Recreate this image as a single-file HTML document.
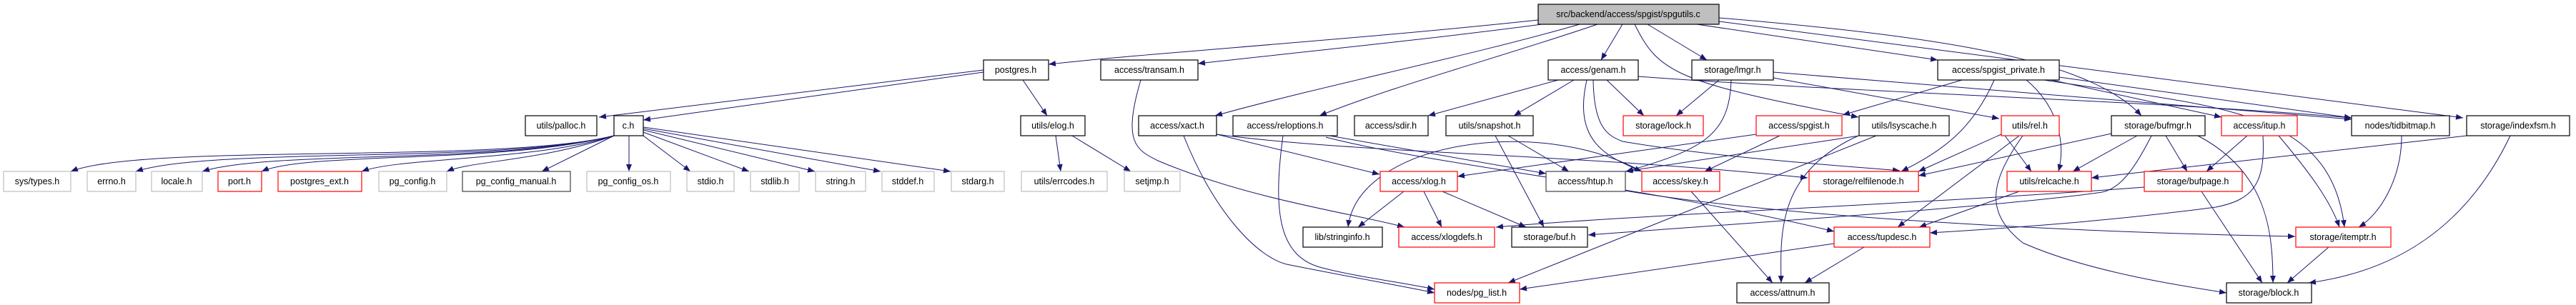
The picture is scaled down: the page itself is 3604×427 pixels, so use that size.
<!DOCTYPE html>
<html><head><meta charset="utf-8"><style>
html,body{margin:0;padding:0;background:#fff;}
svg{display:block;}
text{font-family:"Liberation Sans",sans-serif;font-size:12.5px;fill:#000;text-anchor:middle;}
.n{fill:#fff;stroke:#000;stroke-width:1.2;}
.r{fill:#fff;stroke:#ff0000;stroke-width:1.2;}
.g{fill:#fff;stroke:#bfbfbf;stroke-width:1.2;}
.d{fill:#fff;stroke:#404040;stroke-width:1.2;}
path.e{fill:none;stroke:#191970;stroke-width:1;marker-end:url(#a);}
</style></head><body>
<svg width="3604" height="427" viewBox="0 0 3604 427" xmlns="http://www.w3.org/2000/svg">
<defs><marker id="a" markerWidth="10" markerHeight="8" refX="10" refY="4" orient="auto" markerUnits="userSpaceOnUse"><path d="M0,0 L10,4 L0,8 Z" fill="#191970"/></marker></defs>

<!-- edges -->
<g>
<path class="e" d="M2152,28 C1900,55 1600,75 1467,90"/>
<path class="e" d="M2165,33 C2000,55 1800,75 1676,89"/>
<path class="e" d="M2210,34 C2050,80 1850,120 1700,162"/>
<path class="e" d="M2235,34 C2100,80 1950,120 1846,162"/>
<path class="e" d="M2270,34 L2240,84"/>
<path class="e" d="M2305,34 L2388,84"/>
<path class="e" d="M2287,34 C2320,100 2340,115 2600,164"/>
<path class="e" d="M2374,34 L2711,84"/>
<path class="e" d="M2405,25 C2700,50 2920,80 2996,162"/>
<path class="e" d="M2405,30 L3446,165"/>
<path class="e" d="M1376,101 L900,168"/>
<path class="e" d="M1376,98 L838,164"/>
<path class="e" d="M1431,112 L1465,162"/>
<path class="e" d="M1477,190 L1484,240"/>
<path class="e" d="M1500,190 L1582,240"/>
<path class="e" d="M859,190 C700,230 200,200 99,240"/>
<path class="e" d="M859,190 C700,230 300,205 190,240"/>
<path class="e" d="M859,190 C700,230 380,210 283,240"/>
<path class="e" d="M859,190 C700,230 430,212 366,240"/>
<path class="e" d="M859,190 C750,225 560,220 506,240"/>
<path class="e" d="M859,190 C760,225 660,225 625,240"/>
<path class="e" d="M859,190 L758,240"/>
<path class="e" d="M880,190 L880,240"/>
<path class="e" d="M900,190 L966,240"/>
<path class="e" d="M900,185 L1048,240"/>
<path class="e" d="M900,182 L1140,240"/>
<path class="e" d="M900,180 L1232,240"/>
<path class="e" d="M900,178 L1330,240"/>
<path class="e" d="M1596,112 C1570,200 1590,210 1620,225 C1750,280 1900,300 1965,318"/>
<path class="e" d="M1702,188 L1930,244"/>
<path class="e" d="M1702,188 C1900,215 2200,215 2529,249"/>
<path class="e" d="M1656,190 C1700,300 1760,360 1800,370 C1900,390 1960,400 2007,410"/>
<path class="e" d="M1860,190 L2163,243"/>
<path class="e" d="M1855,192 C2000,230 2300,260 2566,324"/>
<path class="e" d="M1795,190 C1780,300 1790,360 1850,375 C1900,388 1960,395 2007,405"/>
<path class="e" d="M2180,112 L1998,162"/>
<path class="e" d="M2202,112 L2118,162"/>
<path class="e" d="M2248,112 L2300,162"/>
<path class="e" d="M2220,112 C2200,200 2250,220 2297,240"/>
<path class="e" d="M2229,112 C2230,180 2250,190 2270,198 C2400,220 2550,230 2658,239"/>
<path class="e" d="M2292,107 C2600,130 3000,140 3290,165"/>
<path class="e" d="M2405,112 L2345,162"/>
<path class="e" d="M2422,112 C2420,190 2380,210 2275,240"/>
<path class="e" d="M2481,101 L3290,167"/>
<path class="e" d="M2481,109 L2797,166"/>
<path class="e" d="M2745,112 L2578,161"/>
<path class="e" d="M2790,112 C2760,180 2720,210 2660,240"/>
<path class="e" d="M2835,112 C2880,150 2890,200 2880,240"/>
<path class="e" d="M2870,112 L3108,164"/>
<path class="e" d="M2881,108 L3290,165"/>
<path class="e" d="M2860,112 C3100,150 3260,150 3280,318"/>
<path class="e" d="M2457,188 L2039,247"/>
<path class="e" d="M2490,190 L2385,240"/>
<path class="e" d="M2601,190 L2274,240"/>
<path class="e" d="M2625,190 L2110,396"/>
<path class="e" d="M2600,190 C2490,240 2490,320 2492,396"/>
<path class="e" d="M2800,188 L2684,240"/>
<path class="e" d="M2805,190 L2842,240"/>
<path class="e" d="M2825,190 L2655,318"/>
<path class="e" d="M2830,190 C2780,260 2780,300 2830,340 C2920,380 3050,400 3115,410"/>
<path class="e" d="M2825,268 L2685,318"/>
<path class="e" d="M2954,187 L2684,246"/>
<path class="e" d="M2990,190 L2900,240"/>
<path class="e" d="M3030,190 L3060,240"/>
<path class="e" d="M3075,190 C3170,240 3180,320 3180,396"/>
<path class="e" d="M3010,190 C2980,250 2960,265 2941,269 C2800,290 2400,315 2222,329"/>
<path class="e" d="M3144,190 L3087,240"/>
<path class="e" d="M3188,190 C3230,240 3260,280 3273,318"/>
<path class="e" d="M3166,190 C3170,260 3150,280 3100,290 C2950,310 2800,320 2700,326"/>
<path class="e" d="M3000,262 C2700,285 2300,300 2093,318"/>
<path class="e" d="M3080,268 L3165,396"/>
<path class="e" d="M3360,190 C3360,250 3330,300 3300,318"/>
<path class="e" d="M3451,190 L2926,249"/>
<path class="e" d="M3512,190 C3450,320 3350,380 3230,396"/>
<path class="e" d="M3258,346 L3200,396"/>
<path class="e" d="M2274,267 C2500,305 2900,325 3211,331"/>
<path class="e" d="M2608,346 L2525,396"/>
<path class="e" d="M2566,341 L2126,405"/>
<path class="e" d="M2366,268 L2480,396"/>
<path class="e" d="M1964,268 L1900,318"/>
<path class="e" d="M1992,268 L2017,318"/>
<path class="e" d="M2018,268 L2135,318"/>
<path class="e" d="M2110,190 L2195,240"/>
<path class="e" d="M2092,190 L2160,318"/>
<path class="e" d="M2297,240 C2150,160 1900,200 1886,318"/>
</g>

<!-- nodes -->
<g>
<rect x="2152" y="6" width="253" height="28" fill="#bfbfbf" stroke="#000" stroke-width="1.2"/><text x="2278" y="24">src/backend/access/spgist/spgutils.c</text>

<rect class="n" x="1376" y="84" width="91" height="28"/><text x="1421" y="102">postgres.h</text>
<rect class="n" x="1540" y="84" width="136" height="28"/><text x="1608" y="102">access/transam.h</text>
<rect class="n" x="2166" y="84" width="126" height="28"/><text x="2229" y="102">access/genam.h</text>
<rect class="n" x="2367" y="84" width="114" height="28"/><text x="2424" y="102">storage/lmgr.h</text>
<rect class="n" x="2711" y="84" width="170" height="28"/><text x="2796" y="102">access/spgist_private.h</text>

<rect class="n" x="735" y="162" width="100" height="28"/><text x="785" y="180">utils/palloc.h</text>
<rect class="n" x="859" y="162" width="41" height="28"/><text x="879" y="180">c.h</text>
<rect class="n" x="1428" y="162" width="90" height="28"/><text x="1473" y="180">utils/elog.h</text>
<rect class="n" x="1593" y="162" width="109" height="28"/><text x="1647" y="180">access/xact.h</text>
<rect class="n" x="1725" y="162" width="146" height="28"/><text x="1798" y="180">access/reloptions.h</text>
<rect class="n" x="1895" y="162" width="103" height="28"/><text x="1946" y="180">access/sdir.h</text>
<rect class="n" x="2023" y="162" width="122" height="28"/><text x="2084" y="180">utils/snapshot.h</text>
<rect class="r" x="2271" y="162" width="112" height="28"/><text x="2327" y="180">storage/lock.h</text>
<rect class="r" x="2457" y="162" width="120" height="28"/><text x="2517" y="180">access/spgist.h</text>
<rect class="n" x="2601" y="162" width="126" height="28"/><text x="2664" y="180">utils/lsyscache.h</text>
<rect class="r" x="2800" y="162" width="81" height="28"/><text x="2840" y="180">utils/rel.h</text>
<rect class="n" x="2954" y="162" width="131" height="28"/><text x="3019" y="180">storage/bufmgr.h</text>
<rect class="r" x="3108" y="162" width="106" height="28"/><text x="3161" y="180">access/itup.h</text>
<rect class="n" x="3290" y="162" width="137" height="28"/><text x="3358" y="180">nodes/tidbitmap.h</text>
<rect class="n" x="3451" y="162" width="144" height="28"/><text x="3523" y="180">storage/indexfsm.h</text>

<rect class="g" x="5" y="240" width="94" height="28"/><text x="52" y="258">sys/types.h</text>
<rect class="g" x="122" y="240" width="68" height="28"/><text x="156" y="258">errno.h</text>
<rect class="g" x="212" y="240" width="71" height="28"/><text x="247" y="258">locale.h</text>
<rect class="r" x="305" y="240" width="61" height="28"/><text x="335" y="258">port.h</text>
<rect class="r" x="389" y="240" width="117" height="28"/><text x="447" y="258">postgres_ext.h</text>
<rect class="g" x="530" y="240" width="95" height="28"/><text x="577" y="258">pg_config.h</text>
<rect class="d" x="647" y="240" width="151" height="28"/><text x="722" y="258">pg_config_manual.h</text>
<rect class="g" x="821" y="240" width="117" height="28"/><text x="879" y="258">pg_config_os.h</text>
<rect class="g" x="961" y="240" width="66" height="28"/><text x="994" y="258">stdio.h</text>
<rect class="g" x="1050" y="240" width="68" height="28"/><text x="1084" y="258">stdlib.h</text>
<rect class="g" x="1141" y="240" width="70" height="28"/><text x="1176" y="258">string.h</text>
<rect class="g" x="1234" y="240" width="73" height="28"/><text x="1270" y="258">stddef.h</text>
<rect class="g" x="1331" y="240" width="74" height="28"/><text x="1368" y="258">stdarg.h</text>
<rect class="g" x="1429" y="240" width="120" height="28"/><text x="1489" y="258">utils/errcodes.h</text>
<rect class="g" x="1573" y="240" width="78" height="28"/><text x="1612" y="258">setjmp.h</text>
<rect class="r" x="1931" y="240" width="108" height="28"/><text x="1985" y="258">access/xlog.h</text>
<rect class="d" x="2163" y="240" width="111" height="28"/><text x="2218" y="258">access/htup.h</text>
<rect class="r" x="2297" y="240" width="109" height="28"/><text x="2351" y="258">access/skey.h</text>
<rect class="r" x="2531" y="240" width="153" height="28"/><text x="2607" y="258">storage/relfilenode.h</text>
<rect class="r" x="2808" y="240" width="118" height="28"/><text x="2867" y="258">utils/relcache.h</text>
<rect class="r" x="3000" y="240" width="137" height="28"/><text x="3068" y="258">storage/bufpage.h</text>

<rect class="n" x="1823" y="318" width="111" height="28"/><text x="1878" y="336">lib/stringinfo.h</text>
<rect class="r" x="1957" y="318" width="134" height="28"/><text x="2024" y="336">access/xlogdefs.h</text>
<rect class="n" x="2115" y="318" width="106" height="28"/><text x="2168" y="336">storage/buf.h</text>
<rect class="r" x="2566" y="318" width="134" height="28"/><text x="2633" y="336">access/tupdesc.h</text>
<rect class="r" x="3212" y="318" width="133" height="28"/><text x="3278" y="336">storage/itemptr.h</text>

<rect class="r" x="2007" y="396" width="119" height="28"/><text x="2066" y="414">nodes/pg_list.h</text>
<rect class="n" x="2430" y="396" width="129" height="28"/><text x="2494" y="414">access/attnum.h</text>
<rect class="n" x="3115" y="396" width="119" height="28"/><text x="3174" y="414">storage/block.h</text>
</g>
</svg>
</body></html>
